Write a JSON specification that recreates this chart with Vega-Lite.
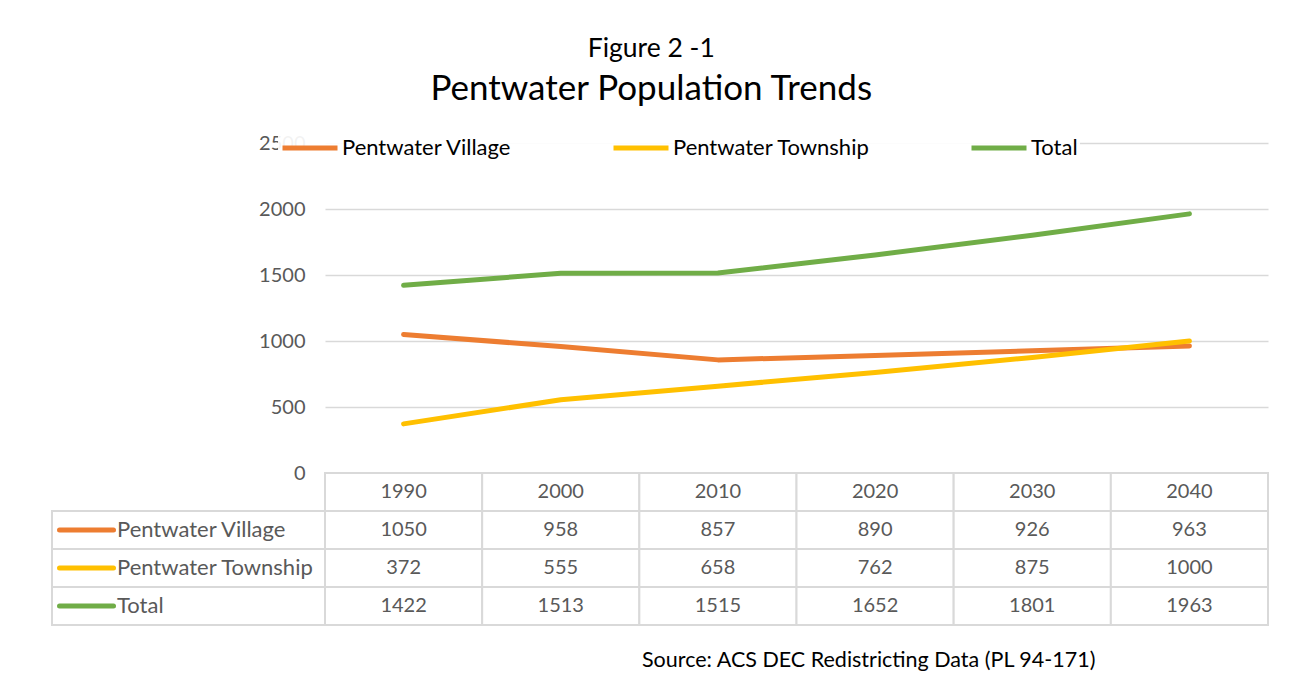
{
  "$schema": "https://vega.github.io/schema/vega-lite/v6.json",
  "datasets": {
    "pop": [
      {"year": 1990, "series": "Pentwater Village", "value": 1050},
      {"year": 2000, "series": "Pentwater Village", "value": 958},
      {"year": 2010, "series": "Pentwater Village", "value": 857},
      {"year": 2020, "series": "Pentwater Village", "value": 890},
      {"year": 2030, "series": "Pentwater Village", "value": 926},
      {"year": 2040, "series": "Pentwater Village", "value": 963},
      {"year": 1990, "series": "Pentwater Township", "value": 372},
      {"year": 2000, "series": "Pentwater Township", "value": 555},
      {"year": 2010, "series": "Pentwater Township", "value": 658},
      {"year": 2020, "series": "Pentwater Township", "value": 762},
      {"year": 2030, "series": "Pentwater Township", "value": 875},
      {"year": 2040, "series": "Pentwater Township", "value": 1000},
      {"year": 1990, "series": "Total", "value": 1422},
      {"year": 2000, "series": "Total", "value": 1513},
      {"year": 2010, "series": "Total", "value": 1515},
      {"year": 2020, "series": "Total", "value": 1652},
      {"year": 2030, "series": "Total", "value": 1801},
      {"year": 2040, "series": "Total", "value": 1963}
    ]
  },
  "padding": {"left": 49, "top": 35, "right": 29, "bottom": 5},
  "title": {
    "text": "Figure 2 -1",
    "subtitle": "Pentwater Population Trends",
    "fontSize": 26.5,
    "subtitleFontSize": 35,
    "font": "Lato",
    "subtitleFont": "Lato",
    "fontWeight": "normal",
    "color": "black",
    "subtitleColor": "black",
    "anchor": "middle",
    "dx": -8,
    "subtitlePadding": 10,
    "offset": 9
  },
  "columns": 2,
  "spacing": 0,
  "bounds": "flush",
  "resolve": {"scale": {"color": "independent", "y": "independent", "x": "independent"}, "legend": {"color": "independent"}},
  "concat": [
    {
      "width": 273,
      "height": 330,
      "data": {"values": [{}]},
      "mark": {"type": "point", "opacity": 0}
    },
    {
      "width": 943,
      "height": 330,
      "data": {"name": "pop"},
      "mark": {"type": "line", "strokeWidth": 5, "strokeCap": "round", "strokeJoin": "round"},
      "encoding": {
        "x": {"field": "year", "type": "ordinal", "scale": {"type": "point", "padding": 0.5}, "axis": null},
        "y": {
          "field": "value",
          "type": "quantitative",
          "scale": {"domain": [0, 2500]},
          "axis": {
            "values": [0, 500, 1000, 1500, 2000, 2500],
            "format": "d",
            "grid": true,
            "gridColor": "#d9d9d9",
            "gridWidth": 1.5,
            "domain": false,
            "ticks": false,
            "labelFontSize": 20,
            "labelFont": "Lato",
            "labelColor": "#595959",
            "labelPadding": 20,
            "title": null
          }
        },
        "color": {
          "field": "series",
          "type": "nominal",
          "scale": {
            "domain": ["Pentwater Village", "Pentwater Township", "Total"],
            "range": ["#ED7D31", "#FFC000", "#70AD47"]
          },
          "legend": {
            "orient": "none",
            "legendX": -47,
            "legendY": -27,
            "direction": "horizontal",
            "title": null,
            "symbolType": "stroke",
            "symbolSize": 3025,
            "symbolStrokeWidth": 5,
            "labelFontSize": 22,
            "labelFont": "Lato",
            "labelColor": "#000000",
            "labelLimit": 400,
            "columnPadding": 91,
            "labelOffset": 2,
            "fillColor": "rgba(255,255,255,0.92)",
            "padding": 2
          }
        }
      }
    },
    {
      "width": 273,
      "height": 152,
      "data": {"name": "pop"},
      "transform": [{"filter": "datum.year === 1990"}],
      "encoding": {
        "y": {
          "field": "series",
          "type": "nominal",
          "scale": {"domain": ["Year", "Pentwater Village", "Pentwater Township", "Total"], "paddingInner": 0, "paddingOuter": 0},
          "axis": null
        }
      },
      "layer": [
        {"mark": {"type": "rect", "fill": "white", "stroke": "#d9d9d9", "strokeWidth": 2}},
        {
          "mark": {"type": "point", "shape": "stroke", "size": 2916, "strokeWidth": 5, "xOffset": -102, "opacity": 1, "strokeCap": "round"},
          "encoding": {
            "color": {
              "field": "series",
              "type": "nominal",
              "scale": {"domain": ["Pentwater Village", "Pentwater Township", "Total"], "range": ["#ED7D31", "#FFC000", "#70AD47"]},
              "legend": null
            }
          }
        },
        {
          "mark": {"type": "text", "align": "left", "dx": -71.5, "fontSize": 22, "font": "Lato", "color": "#595959"},
          "encoding": {"text": {"field": "series"}}
        }
      ]
    },
    {
      "width": 943,
      "height": 152,
      "data": {"name": "pop"},
      "title": {
        "text": "Source: ACS DEC Redistricting Data (PL 94-171)",
        "orient": "bottom",
        "anchor": "start",
        "dx": 318,
        "offset": 24,
        "fontSize": 21.5,
        "font": "Lato",
        "fontWeight": "normal",
        "color": "black"
      },
      "encoding": {
        "x": {"field": "year", "type": "ordinal", "scale": {"paddingInner": 0, "paddingOuter": 0}, "axis": null}
      },
      "layer": [
        {
          "mark": {"type": "rect", "fill": "white", "stroke": "#d9d9d9", "strokeWidth": 2},
          "encoding": {
            "y": {
              "field": "series",
              "type": "nominal",
              "scale": {"domain": ["Year", "Pentwater Village", "Pentwater Township", "Total"], "paddingInner": 0, "paddingOuter": 0},
              "axis": null
            }
          }
        },
        {
          "transform": [{"filter": "datum.series === 'Total'"}],
          "mark": {"type": "rect", "fill": "white", "stroke": "#d9d9d9", "strokeWidth": 2},
          "encoding": {"y": {"datum": "Year", "type": "nominal"}}
        },
        {
          "mark": {"type": "text", "fontSize": 20, "font": "Lato", "color": "#595959"},
          "encoding": {
            "y": {"field": "series", "type": "nominal"},
            "text": {"field": "value", "type": "quantitative", "format": "d"}
          }
        },
        {
          "transform": [{"filter": "datum.series === 'Total'"}],
          "mark": {"type": "text", "fontSize": 20, "font": "Lato", "color": "#595959"},
          "encoding": {
            "y": {"datum": "Year", "type": "nominal"},
            "text": {"field": "year", "type": "ordinal"}
          }
        }
      ]
    }
  ],
  "config": {"view": {"stroke": null}, "font": "Lato"}
}
